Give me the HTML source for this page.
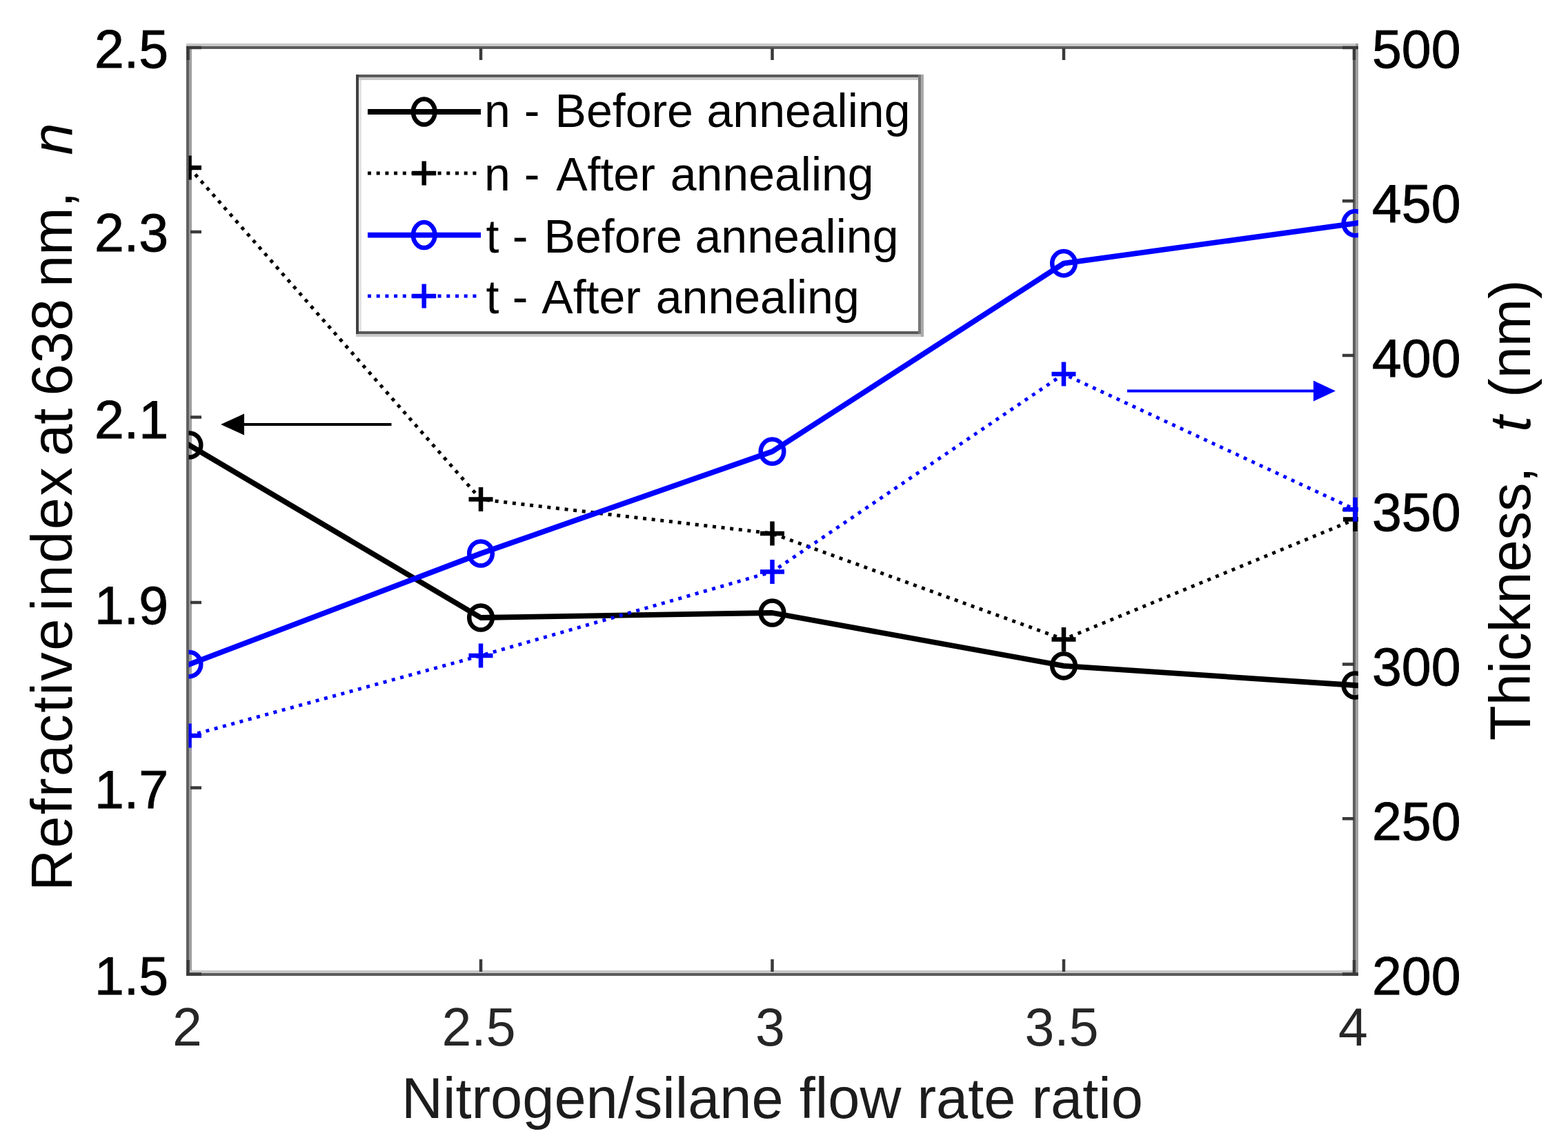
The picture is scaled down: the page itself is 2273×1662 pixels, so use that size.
<!DOCTYPE html>
<html><head><meta charset="utf-8"><style>
html,body{margin:0;padding:0;background:#fff;}
svg{display:block;}
text{font-family:"Liberation Sans",Arial,sans-serif;}
</style></head><body>
<svg width="2273" height="1662" viewBox="0 0 2273 1662">
<rect width="2273" height="1662" fill="#fff"/>
<defs><clipPath id="ax"><rect x="273.5" y="65" width="1695.5" height="1347"/></clipPath></defs>
<g shape-rendering="crispEdges">
<rect x="270" y="63" width="1699" height="4" fill="#c8c8c8"/>
<rect x="270" y="67" width="1699" height="4" fill="#5c5c5c"/>
<rect x="270" y="1406" width="1699" height="4" fill="#c8c8c8"/>
<rect x="270" y="1410" width="1699" height="4" fill="#5a5a5a"/>
<rect x="270" y="67" width="4" height="1347" fill="#606060"/>
<rect x="274" y="71" width="4" height="1335" fill="#a0a0a0"/>
<rect x="1961" y="67" width="4" height="1347" fill="#606060"/>
<rect x="1965" y="63" width="4" height="1347" fill="#a0a0a0"/>
</g>
<g stroke="#3a3a3a" stroke-width="4.5"><line x1="697" y1="1408" x2="697" y2="1390"/><line x1="697" y1="70" x2="697" y2="87"/><line x1="1119.5" y1="1408" x2="1119.5" y2="1390"/><line x1="1119.5" y1="70" x2="1119.5" y2="87"/><line x1="1542" y1="1408" x2="1542" y2="1390"/><line x1="1542" y1="70" x2="1542" y2="87"/><line x1="272.5" y1="1412" x2="272.5" y2="1391"/><line x1="272.5" y1="67" x2="272.5" y2="87"/><line x1="1963" y1="1412" x2="1963" y2="1391"/><line x1="1963" y1="67" x2="1963" y2="87"/><line x1="270" y1="69" x2="292" y2="69"/><line x1="1969" y1="69" x2="1946" y2="69"/><line x1="270" y1="1411.5" x2="292" y2="1411.5"/><line x1="1969" y1="1411.5" x2="1946" y2="1411.5"/><line x1="276" y1="336" x2="292" y2="336"/><line x1="276" y1="604.5" x2="292" y2="604.5"/><line x1="276" y1="873" x2="292" y2="873"/><line x1="276" y1="1141.5" x2="292" y2="1141.5"/><line x1="1963" y1="291.25" x2="1946" y2="291.25"/><line x1="1963" y1="515" x2="1946" y2="515"/><line x1="1963" y1="738.75" x2="1946" y2="738.75"/><line x1="1963" y1="962.5" x2="1946" y2="962.5"/><line x1="1963" y1="1186.25" x2="1946" y2="1186.25"/></g>
<g clip-path="url(#ax)" fill="none" stroke-linejoin="round">
<polyline points="249.5,630.2 274.5,645.0 697.0,895.0 1119.5,888.0 1542.0,964.8 1964.5,993.0 1989.5,994.7" stroke="#000" stroke-width="7.8"/>
<g stroke="#000" stroke-width="6.5"><ellipse cx="274.5" cy="645" rx="16.8" ry="17.6"/><ellipse cx="697" cy="895" rx="16.8" ry="17.6"/><ellipse cx="1119.5" cy="888" rx="16.8" ry="17.6"/><ellipse cx="1542" cy="964.8" rx="16.8" ry="17.6"/><ellipse cx="1964.5" cy="993" rx="16.8" ry="17.6"/></g>
<polyline points="249.5,214.6 274.5,243.0 697.0,723.6 1119.5,773.0 1542.0,926.4 1964.5,752.5 1989.5,742.2" stroke="#000" stroke-width="5" stroke-dasharray="5 7.7"/>
<path d="M257.0,243H292.0M274.5,225.5V260.5M679.5,723.6H714.5M697,706.1V741.1M1102.0,773H1137.0M1119.5,755.5V790.5M1524.5,926.4H1559.5M1542,908.9V943.9M1947.0,752.5H1982.0M1964.5,735.0V770.0" stroke="#000" stroke-width="6.5"/>
<polyline points="249.5,972.1 274.5,962.6 697.0,802.0 1119.5,654.2 1542.0,381.6 1964.5,323.6 1989.5,320.2" stroke="#00f" stroke-width="7.8"/>
<g stroke="#00f" stroke-width="6.5"><ellipse cx="274.5" cy="962.6" rx="16.8" ry="17.6"/><ellipse cx="697" cy="802" rx="16.8" ry="17.6"/><ellipse cx="1119.5" cy="654.2" rx="16.8" ry="17.6"/><ellipse cx="1542" cy="381.6" rx="16.8" ry="17.6"/><ellipse cx="1964.5" cy="323.6" rx="16.8" ry="17.6"/></g>
<polyline points="249.5,1072.9 274.5,1066.0 697.0,950.0 1119.5,828.5 1542.0,542.0 1964.5,738.3 1989.5,749.9" stroke="#00f" stroke-width="5" stroke-dasharray="5 7.7"/>
<path d="M257.0,1066H292.0M274.5,1048.5V1083.5M679.5,950H714.5M697,932.5V967.5M1102.0,828.5H1137.0M1119.5,811.0V846.0M1524.5,542H1559.5M1542,524.5V559.5M1947.0,738.3H1982.0M1964.5,720.8V755.8" stroke="#00f" stroke-width="6.5"/>
</g>
<line x1="350" y1="615" x2="567.5" y2="615" stroke="#000" stroke-width="4"/>
<polygon points="320,615 354,599.5 354,630.5" fill="#000"/>
<line x1="1634" y1="566.4" x2="1908" y2="566.4" stroke="#00f" stroke-width="4"/>
<polygon points="1936,566.4 1904,551.5 1904,581.5" fill="#00f"/>
<g shape-rendering="crispEdges">
<rect x="520" y="111" width="811" height="368" fill="#fff"/>
<rect x="516" y="107.5" width="819" height="4" fill="#5a5a5a"/>
<rect x="520" y="111.5" width="811" height="4" fill="#c8c8c8"/>
<rect x="516" y="479.5" width="819" height="4" fill="#5a5a5a"/>
<rect x="516" y="483.5" width="819" height="4" fill="#c8c8c8"/>
<rect x="516" y="107.5" width="4" height="376" fill="#404040"/>
<rect x="520" y="115.5" width="4" height="364" fill="#e4e4e4"/>
<rect x="1331" y="107.5" width="4" height="376" fill="#777"/>
<rect x="1335" y="107.5" width="4" height="380" fill="#aaa"/>
</g>
<g fill="none"><line x1="533" y1="162" x2="697" y2="162" stroke="#000" stroke-width="7.8"/><ellipse cx="614.7" cy="162" rx="15.8" ry="18.5" stroke="#000" stroke-width="6.5"/><line x1="533" y1="251" x2="697" y2="251" stroke="#000" stroke-width="5" stroke-dasharray="5 7.7"/><path d="M597.2,251H632.2M614.7,233.5V268.5" stroke="#000" stroke-width="6.5"/><line x1="533" y1="340.6" x2="697" y2="340.6" stroke="#00f" stroke-width="7.8"/><ellipse cx="614.7" cy="340.6" rx="15.8" ry="18.5" stroke="#00f" stroke-width="6.5"/><line x1="533" y1="429.1" x2="697" y2="429.1" stroke="#00f" stroke-width="5" stroke-dasharray="5 7.7"/><path d="M597.2,429.1H632.2M614.7,411.6V446.6" stroke="#00f" stroke-width="6.5"/></g>
<g font-size="68" fill="#000"><text y="183.8"><tspan x="702.0">n</tspan><tspan x="759.7">-</tspan><tspan x="804.6">Before</tspan><tspan x="1024.5">annealing</tspan></text><text y="276.4"><tspan x="702.0">n</tspan><tspan x="759.7">-</tspan><tspan x="806.2">After</tspan><tspan x="971.7">annealing</tspan></text><text y="365.8"><tspan x="704.5">t</tspan><tspan x="742.8">-</tspan><tspan x="788.6">Before</tspan><tspan x="1007.5">annealing</tspan></text><text y="454.3"><tspan x="704.5">t</tspan><tspan x="742.8">-</tspan><tspan x="785.3">After</tspan><tspan x="950.8">annealing</tspan></text></g>
<g font-size="77" fill="#000" stroke="#000" stroke-width="0.9" text-anchor="end"><text x="244" y="98.0">2.5</text><text x="244" y="364.0">2.3</text><text x="244" y="635.0">2.1</text><text x="244" y="903.5">1.9</text><text x="244" y="1170.5">1.7</text><text x="244" y="1440.5">1.5</text></g>
<g font-size="77" fill="#000" stroke="#000" stroke-width="0.9"><text x="1989" y="98.0">500</text><text x="1989" y="321.75">450</text><text x="1989" y="545.5">400</text><text x="1989" y="769.25">350</text><text x="1989" y="993.0">300</text><text x="1989" y="1216.75">250</text><text x="1989" y="1440.5">200</text></g>
<g font-size="77" fill="#262626" text-anchor="middle"><text x="271.5" y="1515">2</text><text x="694" y="1515">2.5</text><text x="1116.5" y="1515">3</text><text x="1539" y="1515">3.5</text><text x="1961.5" y="1515">4</text></g>
<text x="1119.5" y="1620" font-size="83" fill="#1c1c1c" text-anchor="middle">Nitrogen/silane flow rate ratio</text>
<text transform="translate(103.6,1290) rotate(-90)" font-size="83" fill="#000"><tspan x="-1" letter-spacing="2.3">Refractive</tspan><tspan x="404.4" letter-spacing="2.5">index</tspan><tspan x="629.1">at</tspan><tspan x="716.4" letter-spacing="1">638</tspan><tspan x="874">nm,</tspan><tspan x="1065.4" font-style="italic">n</tspan></text>
<text transform="translate(2218,1073) rotate(-90)" font-size="83" fill="#000"><tspan x="0">Thickness,</tspan><tspan x="447.3" font-style="italic">t</tspan><tspan x="497">(nm)</tspan></text>
</svg>
</body></html>
